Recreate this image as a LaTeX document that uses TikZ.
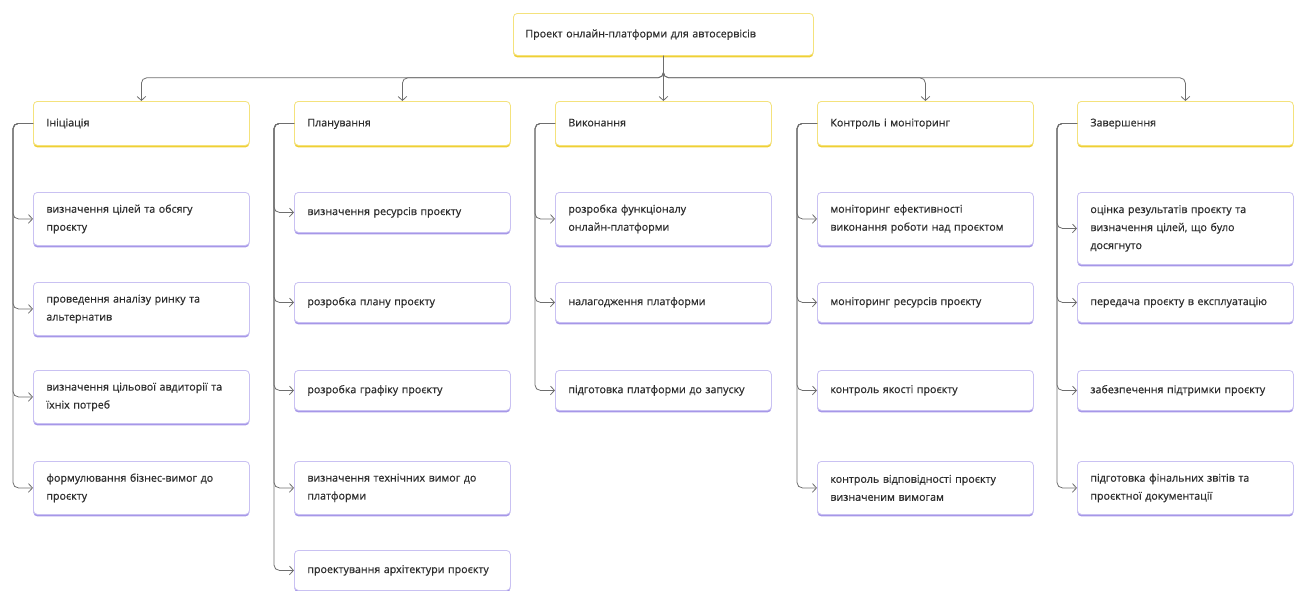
\documentclass[tikz,border=0pt]{standalone}
\usepackage{fontspec}
\setmainfont{Open Sans}[FakeBold=0.6]
\usetikzlibrary{positioning,arrows.meta,shadows}
\definecolor{hdrline}{HTML}{F4E27C}
\definecolor{hdrbase}{HTML}{EFCF35}
\definecolor{taskline}{HTML}{C9C1F2}
\definecolor{taskbase}{HTML}{A697E8}
\definecolor{linkgray}{HTML}{6E6E6E}
\definecolor{textgray}{HTML}{2E2E2E}
\tikzset{
    x=0.75pt,
    y=-0.75pt,
    card/.style = {
        draw,
        fill=white,
        rounded corners=3pt,
        line width=0.6pt,
        anchor=north west,
        align=left,
        inner xsep=9.75pt,
        text width=142.5pt,
        minimum width=162pt,
        font=\fontsize{8}{13.5}\selectfont,
        text=textgray
    },
    phase/.style = {
        card,
        draw=hdrline,
        minimum height=33pt,
        text height=6.5pt,
        text depth=2pt,
        general shadow={fill=hdrbase, shadow yshift=-1.5pt}
    },
    top/.style = {
        phase,
        inner xsep=9pt,
        text width=207pt,
        minimum width=225pt,
        minimum height=31.5pt
    },
    task/.style = {
        card,
        draw=taskline,
        minimum height=30pt,
        general shadow={fill=taskbase, shadow yshift=-1.5pt}
    },
    task2/.style = {
        task,
        minimum height=39.75pt
    },
    task3/.style = {
        task,
        minimum height=54pt
    },
    link/.style = {
        draw=linkgray,
        line width=0.6pt,
        rounded corners=4pt
    },
    >={Straight Barb[length=3pt,width=6.5pt]},
}

\begin{document}
\begin{tikzpicture}
        \useasboundingbox (0,0) rectangle (1302,590);

        \node[top] (proj) at (513,13) {Проект онлайн-платформи для автосервісів};

        \node[phase] (ini) at (33,101) {Ініціація};
        \node[phase] (plan) at (294,101) {Планування};
        \node[phase] (vyk) at (555,101) {Виконання};
        \node[phase] (kon) at (817,101) {Контроль і моніторинг};
        \node[phase] (zav) at (1077,101) {Завершення};

        \path[draw, link, ->] (proj.south) -- ++(0,-16.5pt) -| (ini.north);
        \path[draw, link, ->] (proj.south) -- ++(0,-16.5pt) -| (plan.north);
        \path[draw, link, ->] (proj.south) -- (vyk.north);
        \path[draw, link, ->] (proj.south) -- ++(0,-16.5pt) -| (kon.north);
        \path[draw, link, ->] (proj.south) -- ++(0,-16.5pt) -| (zav.north);

        \node[task2] (ini1) at (33,192) {визначення цілей та обсягу\\проєкту};
        \node[task2] (ini2) at (33,282) {проведення аналізу ринку та\\альтернатив};
        \node[task2] (ini3) at (33,370) {визначення цільової авдиторії та\\їхніх потреб};
        \node[task2] (ini4) at (33,461) {формулювання бізнес-вимог до\\проєкту};

        \node[task] (plan1) at (294,192) {визначення ресурсів проєкту};
        \node[task] (plan2) at (294,282) {розробка плану проєкту};
        \node[task] (plan3) at (294,370) {розробка графіку проєкту};
        \node[task2] (plan4) at (294,461) {визначення технічних вимог до\\платформи};
        \node[task] (plan5) at (294,550) {проектування архітектури проєкту};

        \node[task2] (vyk1) at (555,192) {розробка функціоналу\\онлайн-платформи};
        \node[task] (vyk2) at (555,282) {налагодження платформи};
        \node[task] (vyk3) at (555,370) {підготовка платформи до запуску};

        \node[task2] (kon1) at (817,192) {моніторинг ефективності\\виконання роботи над проєктом};
        \node[task] (kon2) at (817,282) {моніторинг ресурсів проєкту};
        \node[task] (kon3) at (817,370) {контроль якості проєкту};
        \node[task2] (kon4) at (817,461) {контроль відповідності проєкту\\визначеним вимогам};

        \node[task3] (zav1) at (1077,192) {оцінка результатів проєкту та\\визначення цілей, що було\\досягнуто};
        \node[task] (zav2) at (1077,282) {передача проєкту в експлуатацію};
        \node[task] (zav3) at (1077,370) {забезпечення підтримки проєкту};
        \node[task2] (zav4) at (1077,461) {підготовка фінальних звітів та\\проєктної документації};

        \path[draw, link, ->] (ini.west) -- ++(-15pt,0) |- (ini1.west);
        \path[draw, link, ->] (ini.west) -- ++(-15pt,0) |- (ini2.west);
        \path[draw, link, ->] (ini.west) -- ++(-15pt,0) |- (ini3.west);
        \path[draw, link, ->] (ini.west) -- ++(-15pt,0) |- (ini4.west);

        \path[draw, link, ->] (plan.west) -- ++(-15pt,0) |- (plan1.west);
        \path[draw, link, ->] (plan.west) -- ++(-15pt,0) |- (plan2.west);
        \path[draw, link, ->] (plan.west) -- ++(-15pt,0) |- (plan3.west);
        \path[draw, link, ->] (plan.west) -- ++(-15pt,0) |- (plan4.west);
        \path[draw, link, ->] (plan.west) -- ++(-15pt,0) |- (plan5.west);

        \path[draw, link, ->] (vyk.west) -- ++(-15pt,0) |- (vyk1.west);
        \path[draw, link, ->] (vyk.west) -- ++(-15pt,0) |- (vyk2.west);
        \path[draw, link, ->] (vyk.west) -- ++(-15pt,0) |- (vyk3.west);

        \path[draw, link, ->] (kon.west) -- ++(-15pt,0) |- (kon1.west);
        \path[draw, link, ->] (kon.west) -- ++(-15pt,0) |- (kon2.west);
        \path[draw, link, ->] (kon.west) -- ++(-15pt,0) |- (kon3.west);
        \path[draw, link, ->] (kon.west) -- ++(-15pt,0) |- (kon4.west);

        \path[draw, link, ->] (zav.west) -- ++(-15pt,0) |- (zav1.west);
        \path[draw, link, ->] (zav.west) -- ++(-15pt,0) |- (zav2.west);
        \path[draw, link, ->] (zav.west) -- ++(-15pt,0) |- (zav3.west);
        \path[draw, link, ->] (zav.west) -- ++(-15pt,0) |- (zav4.west);

    \end{tikzpicture}
\end{document}
